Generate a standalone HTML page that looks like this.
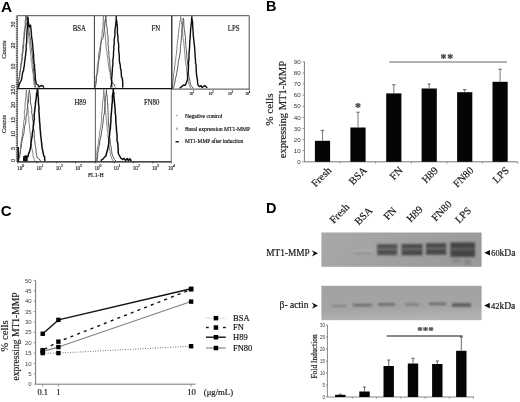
<!DOCTYPE html>
<html><head><meta charset="utf-8"><title>Figure</title>
<style>
html,body{margin:0;padding:0;background:#fff;}
svg{display:block;filter:blur(0.3px)}
.ts{font-family:'Liberation Serif', serif;stroke:#222;stroke-width:0.18px;}
.ta{font-family:'Liberation Sans', sans-serif;}
</style></head><body>
<svg width="520" height="402" viewBox="0 0 520 402">
<rect width="520" height="402" fill="#fff"/>
<text class="ta" x="0.9" y="12.1" font-size="15.3" text-anchor="start" fill="#000" font-weight="bold">A</text>
<text class="ta" x="266.0" y="10.8" font-size="14.5" text-anchor="start" fill="#000" font-weight="bold">B</text>
<text class="ta" x="0.8" y="216.2" font-size="15" text-anchor="start" fill="#000" font-weight="bold">C</text>
<text class="ta" x="266.0" y="213.1" font-size="14.5" text-anchor="start" fill="#000" font-weight="bold">D</text>
<polyline points="17.8,87.6 17.9,85.6 18.5,82.5 18.7,80.3 19.0,78.0 19.4,75.8 19.5,72.3 20.2,70.2 20.6,67.1 20.8,65.4 21.0,63.1 21.5,60.0 22.0,56.6 21.8,54.6 22.6,51.6 22.5,48.9 22.7,45.9 23.2,43.5 23.4,40.4 23.8,38.0 23.9,35.2 24.1,31.9 24.6,29.9 24.8,26.7 25.2,24.8 25.0,21.4 25.5,19.2 25.6,16.2 26.4,18.0 26.8,20.0 27.3,23.0 27.4,25.7 28.0,28.8 28.2,31.3 28.5,34.0 28.6,36.2 29.2,39.0 29.2,41.8 29.7,44.5 29.9,46.8 30.2,49.8 30.5,52.0 30.8,54.4 31.1,56.5 31.1,60.0 31.9,62.4 31.9,64.4 32.2,68.0 32.5,70.0 32.9,72.9 33.3,75.3 33.4,79.0 33.7,81.1 34.0,84.0 34.4,85.9 35.0,87.6" fill="none" stroke="#848484" stroke-width="1.0" stroke-linejoin="round"/>
<polyline points="18.0,87.6 18.4,86.2 18.4,83.6 18.6,80.3 19.4,78.5 19.7,75.2 20.1,72.9 20.5,70.0 20.9,67.0 21.2,64.7 21.7,62.9 22.1,59.8 22.3,56.8 22.4,54.0 23.0,52.0 23.2,48.9 23.5,46.8 23.8,43.5 23.9,40.0 24.2,37.2 24.5,35.5 24.8,32.0 25.1,28.9 25.5,27.0 25.7,24.5 25.9,21.7 26.0,19.3 26.3,16.0 27.5,17.0 28.0,19.2 28.2,22.5 28.4,24.8 28.7,27.9 29.0,30.0 29.3,32.9 29.6,35.5 30.2,37.5 30.4,40.5 30.8,42.5 31.0,45.0 31.2,47.6 31.7,50.2 32.1,53.2 32.5,56.1 32.8,59.4 32.9,62.0 33.1,64.8 33.4,67.7 33.5,70.0 33.8,73.8 34.0,76.0 34.3,77.7 34.7,80.8 34.9,82.4 35.0,85.0 36.0,87.6" fill="none" stroke="#585858" stroke-width="1.0" stroke-linejoin="round"/>
<polyline points="18.6,87.6 18.8,85.9 19.4,84.0 20.3,82.2 21.4,80.0 22.0,76.9 22.1,75.7 22.7,72.4 23.6,70.4 23.8,68.0 24.4,65.3 24.6,62.1 24.9,60.6 25.2,57.7 25.7,54.0 25.9,52.0 26.2,49.3 26.1,45.5 26.6,43.4 26.7,41.2 26.8,38.4 26.8,35.3 27.0,32.0 27.1,30.2 27.5,26.4 27.2,24.0 27.9,21.9 27.8,19.2 27.9,17.0 28.1,19.2 28.3,21.8 28.6,24.0 29.1,26.1 29.4,27.0 30.5,25.0 30.9,28.4 31.2,31.3 31.4,32.7 31.5,36.0 32.0,39.4 32.3,41.4 32.5,43.5 32.9,46.8 32.9,48.6 33.3,52.0 33.7,55.5 33.5,57.8 33.8,59.4 34.0,63.1 34.5,64.6 34.5,68.0 34.8,69.7 35.0,72.5 35.3,76.0 35.3,78.4 35.5,80.0 35.8,81.3 36.3,84.0 38.0,85.0 39.0,87.0 41.0,85.5 43.0,86.0 44.0,87.6" fill="none" stroke="#0c0c0c" stroke-width="1.4" stroke-linejoin="round"/>
<polyline points="95.0,87.6 95.2,84.4 95.6,82.0 96.0,80.0 96.0,77.0 96.9,74.9 97.1,71.2 97.2,68.4 97.3,65.4 97.6,63.9 98.3,60.9 98.6,57.1 98.6,55.0 99.0,52.0 99.6,50.1 100.2,46.3 100.6,44.8 101.0,42.0 101.3,39.1 101.5,36.5 102.1,35.4 102.1,32.1 102.4,30.0 102.9,27.3 103.1,25.0 103.1,21.5 103.3,18.7 103.5,16.0 103.5,18.5 104.1,20.9 103.9,24.6 104.2,27.3 104.6,30.0 104.9,32.6 105.4,35.2 105.4,38.1 105.8,41.1 105.9,44.7 106.1,47.2 106.5,50.0 107.1,52.0 107.0,54.9 107.9,58.2 107.9,60.4 108.3,63.3 108.9,66.0 109.0,69.1 110.0,72.3 110.3,75.1 110.3,76.9 111.0,80.0 111.9,83.0 112.2,85.8 112.9,87.6" fill="none" stroke="#848484" stroke-width="1.0" stroke-linejoin="round"/>
<polyline points="95.2,87.6 95.6,85.6 96.1,83.5 96.4,81.1 96.6,78.0 96.7,75.2 97.6,72.7 98.0,69.1 98.1,66.6 98.5,64.4 98.6,61.0 99.1,59.4 99.6,56.0 100.1,52.8 100.4,50.1 100.7,47.4 100.6,45.9 101.1,42.2 101.6,40.0 102.8,38.6 103.4,36.0 103.6,34.3 104.0,31.5 104.1,29.5 104.6,27.1 104.8,24.0 105.4,21.0 105.5,18.1 105.9,16.0 105.9,17.7 106.2,21.0 106.3,23.5 106.7,25.3 107.0,28.0 107.4,30.6 107.3,33.3 107.8,35.3 108.1,37.9 108.2,41.9 108.0,44.5 108.4,46.8 108.4,48.6 108.9,52.0 108.9,55.3 109.1,57.6 109.8,60.4 109.7,62.1 110.0,65.3 110.0,67.8 110.4,70.0 110.9,73.0 110.8,75.5 111.1,76.9 111.7,80.3 112.0,82.0 113.2,84.0 114.6,84.5 114.9,86.7 115.4,87.6" fill="none" stroke="#585858" stroke-width="1.0" stroke-linejoin="round"/>
<polyline points="110.6,87.6 111.2,86.3 111.5,84.0 111.7,80.8 111.6,78.7 112.0,76.0 112.1,73.2 112.4,70.0 112.4,67.9 112.9,64.7 112.9,62.6 112.8,59.8 113.4,56.8 113.5,54.9 113.5,52.0 113.9,48.9 113.7,46.8 114.3,43.3 114.1,40.1 114.6,37.4 115.0,35.0 114.9,32.0 115.0,29.6 115.3,27.5 115.8,24.2 115.9,21.9 116.2,19.8 116.3,16.4 116.2,18.9 116.8,21.5 117.0,23.9 117.4,27.3 117.4,30.0 117.4,33.0 117.7,35.0 118.0,37.7 118.0,41.6 118.5,43.0 118.7,45.7 118.6,49.9 118.9,52.0 119.2,54.4 119.3,57.2 119.4,60.8 119.6,62.5 120.3,65.2 120.4,68.0 121.0,70.0 121.3,73.4 121.4,75.7 121.6,77.5 122.4,78.0 122.5,80.9 122.8,82.8 122.7,85.5 122.8,87.6" fill="none" stroke="#0c0c0c" stroke-width="1.4" stroke-linejoin="round"/>
<polyline points="172.2,88.4 172.4,85.8 172.7,84.0 173.1,80.7 173.4,78.2 173.5,75.6 173.9,72.7 174.4,70.0 174.5,67.0 175.0,65.2 175.1,62.0 175.7,60.2 175.9,57.0 176.4,54.1 176.5,52.0 177.0,48.9 177.0,45.9 177.3,43.8 177.6,40.7 178.1,37.6 178.3,34.4 178.6,32.0 178.8,29.1 179.4,26.8 179.6,24.4 180.0,21.6 180.5,19.5 180.7,16.7 181.0,19.6 181.5,22.8 181.9,24.9 182.2,28.0 182.7,30.1 182.7,33.4 182.8,35.7 183.0,38.5 183.6,40.9 183.9,43.2 184.0,46.0 184.4,48.8 184.6,51.4 185.0,54.6 185.1,57.0 185.2,59.8 185.8,62.8 186.0,65.0 186.5,67.3 186.6,70.2 186.8,72.5 187.2,74.6 187.5,77.8 188.0,80.0 188.4,81.7 189.0,84.4 189.6,86.0 191.0,88.4" fill="none" stroke="#848484" stroke-width="1.0" stroke-linejoin="round"/>
<polyline points="173.4,88.4 173.8,86.8 174.3,84.4 175.0,82.0 175.3,78.9 176.2,76.1 176.6,73.6 177.1,70.8 177.6,68.0 177.9,65.7 178.3,62.4 178.7,59.7 179.4,57.8 179.8,54.2 180.3,52.0 180.4,49.7 180.5,46.4 180.9,43.6 181.1,40.8 181.4,37.9 181.8,34.9 181.8,32.0 181.9,28.7 182.6,26.4 182.6,24.1 183.0,21.1 183.3,18.0 183.8,20.6 183.8,24.0 184.0,26.7 184.3,29.4 184.8,32.0 185.1,35.4 185.5,37.7 185.4,40.2 185.8,43.4 185.9,46.7 186.3,49.4 186.6,52.0 186.7,54.6 186.9,57.5 187.3,60.5 187.6,63.8 188.1,65.9 188.1,68.8 188.4,72.0 188.8,74.9 189.0,77.1 189.4,78.7 190.0,81.4 190.2,84.0 191.0,85.4 192.0,87.0 193.6,88.4" fill="none" stroke="#585858" stroke-width="1.0" stroke-linejoin="round"/>
<polyline points="179.7,88.2 181.6,86.6 183.6,85.0 185.4,85.4 186.4,82.4 187.5,79.8 187.6,77.3 187.7,73.9 188.4,70.4 188.4,68.0 188.6,65.5 188.4,62.5 188.9,59.9 189.0,56.9 188.9,54.2 189.2,52.0 189.4,49.7 189.6,46.6 189.7,43.7 189.8,40.3 190.2,38.0 190.3,34.3 190.5,32.0 190.6,29.1 190.9,27.3 191.1,24.8 191.6,21.2 191.6,19.2 191.9,16.7 191.9,19.2 192.5,21.3 192.6,23.9 192.8,27.4 192.8,28.8 193.2,32.0 193.2,34.9 193.5,37.2 193.9,41.1 194.1,43.3 194.5,45.8 194.7,48.7 194.9,52.0 195.1,55.2 195.1,57.2 195.5,59.3 195.5,62.9 196.1,64.4 196.1,68.0 196.2,70.0 196.4,72.9 196.6,75.4 197.2,78.5 197.5,80.7 197.7,84.0 198.5,85.8 199.4,86.6 201.0,85.6 202.2,87.6 204.0,86.0 205.4,85.8 207.2,88.2" fill="none" stroke="#0c0c0c" stroke-width="1.4" stroke-linejoin="round"/>
<polyline points="18.2,161.0 18.8,158.4 19.4,156.0 19.8,152.9 20.3,151.2 20.5,147.5 20.7,145.1 20.9,143.4 21.4,140.0 22.1,136.6 22.4,134.8 22.5,131.7 23.0,129.3 23.4,126.9 23.7,124.0 23.7,121.6 24.4,119.0 24.4,114.7 24.3,112.0 25.0,109.4 24.9,107.5 25.2,104.0 25.3,101.3 25.6,97.7 26.0,96.2 26.0,92.4 26.4,90.0 26.5,91.9 26.8,95.8 27.1,98.1 27.4,100.1 27.4,103.1 27.6,106.0 27.9,108.1 28.3,110.9 28.1,114.7 28.9,116.9 28.8,119.3 29.0,122.7 29.2,124.6 29.6,128.0 29.9,130.0 30.3,133.7 30.6,135.7 30.7,138.2 30.7,141.2 31.2,143.1 31.6,146.0 31.7,148.3 32.4,150.6 33.0,153.5 33.0,155.6 33.6,158.0 34.5,159.5 35.0,161.0" fill="none" stroke="#848484" stroke-width="1.0" stroke-linejoin="round"/>
<polyline points="18.6,161.0 19.0,158.8 19.8,156.4 20.0,154.4 20.4,152.0 20.6,149.4 21.3,147.1 21.5,143.7 21.9,141.8 22.7,137.9 23.0,136.0 23.8,133.9 24.2,130.6 24.5,126.8 25.3,124.1 25.8,122.0 25.9,119.0 26.1,116.8 26.6,114.8 27.0,111.9 27.2,109.4 27.5,106.2 27.8,104.0 28.4,102.0 28.6,98.7 28.6,95.2 29.0,92.1 29.4,90.0 29.8,92.6 30.2,95.4 30.5,99.0 30.2,100.7 30.8,104.0 31.4,106.8 31.8,109.6 31.6,112.8 32.3,115.1 32.3,118.0 33.1,121.6 33.2,124.0 33.2,126.2 33.5,128.4 34.1,131.2 34.3,134.2 34.3,137.2 34.5,139.7 35.0,142.0 35.0,144.3 35.4,146.4 36.1,149.7 36.0,152.2 36.4,154.0 36.7,155.8 37.4,158.0 39.2,159.0 40.6,161.0" fill="none" stroke="#585858" stroke-width="1.0" stroke-linejoin="round"/>
<polyline points="23.7,161.0 23.8,159.0 23.9,156.6 25.8,156.0 27.6,156.4 27.9,157.0 28.3,154.6 29.0,152.9 29.9,150.4 30.4,148.0 30.8,145.8 30.9,143.1 31.3,141.4 31.6,138.9 32.2,136.0 32.3,133.9 32.7,131.1 33.3,128.1 33.2,127.0 33.7,124.0 33.9,120.7 34.4,119.3 34.1,115.9 34.4,113.1 34.8,110.2 35.0,108.0 35.4,105.0 35.4,103.7 35.8,100.7 36.2,98.4 36.4,96.0 36.7,92.9 37.2,91.7 37.4,88.6 37.9,91.7 37.8,94.1 38.3,97.4 38.4,100.0 38.4,102.3 38.7,105.3 39.1,108.0 38.8,111.1 39.2,113.4 39.2,115.9 39.5,119.1 39.5,121.4 39.9,124.0 40.0,126.9 40.1,129.0 40.5,132.2 40.6,134.6 40.9,137.0 41.3,140.0 41.6,143.2 41.9,145.7 42.1,148.1 42.6,150.0 42.9,151.6 43.5,154.6 43.8,156.0 44.8,157.0 44.6,158.7 45.0,161.0" fill="none" stroke="#0c0c0c" stroke-width="1.5" stroke-linejoin="round"/>
<rect x="17.4" y="147" width="1.6" height="14.5" fill="#111"/>
<rect x="23.7" y="156.6" width="4" height="4.6" fill="#111"/>
<polyline points="96.4,161.0 96.4,158.9 96.8,156.8 96.8,154.0 97.0,150.9 97.4,148.0 98.1,145.1 98.4,142.4 98.8,140.0 99.1,137.2 99.7,134.8 99.7,131.7 100.1,129.8 100.8,127.1 101.0,124.0 101.4,121.5 101.7,118.7 101.6,115.9 101.9,112.9 102.2,109.6 102.3,106.8 102.6,104.0 102.8,100.6 103.2,98.6 103.6,95.6 103.6,92.8 103.8,89.6 103.9,92.7 104.3,94.9 104.4,98.3 104.6,101.1 105.0,104.0 105.3,106.7 105.3,109.7 105.6,112.2 105.9,115.3 106.1,118.5 106.8,121.0 106.8,124.0 107.2,127.1 107.1,128.7 107.7,132.1 107.9,133.9 108.0,137.3 108.5,139.8 108.6,142.0 108.8,144.9 109.3,147.1 109.5,149.8 110.1,151.9 110.4,154.0 110.9,156.2 111.8,158.1 112.4,160.0 113.4,161.0" fill="none" stroke="#848484" stroke-width="1.0" stroke-linejoin="round"/>
<polyline points="97.2,161.0 97.2,159.0 97.7,157.1 97.7,153.9 98.0,152.0 98.6,149.4 98.9,146.6 99.5,144.0 99.9,140.4 100.6,138.0 101.2,135.2 101.4,133.1 102.0,129.6 102.4,127.5 102.6,124.9 103.2,122.0 103.3,119.2 103.5,116.5 104.2,114.2 104.5,111.6 104.5,109.6 104.8,106.1 105.0,104.0 105.3,101.3 105.4,97.7 106.1,95.4 106.1,92.4 106.5,89.6 106.6,92.9 106.9,94.9 107.3,97.7 107.3,100.5 107.6,104.0 107.9,106.4 107.9,109.2 108.0,112.8 108.2,115.4 108.3,118.2 108.5,120.6 108.6,124.0 108.8,126.2 109.2,129.7 109.1,131.3 109.6,134.4 109.5,137.1 110.2,139.3 110.2,142.0 110.5,144.5 111.1,146.5 111.2,148.8 111.7,151.6 112.0,154.0 113.1,156.6 114.4,159.4 116.0,161.0" fill="none" stroke="#585858" stroke-width="1.0" stroke-linejoin="round"/>
<polyline points="100.6,160.6 103.0,159.0 104.7,156.9 105.9,156.0 106.7,152.8 107.5,149.8 108.0,147.6 108.5,144.9 108.9,142.4 108.9,138.7 109.4,136.0 109.7,133.3 109.8,130.9 110.3,129.3 110.5,126.0 110.6,124.0 111.0,121.2 110.9,118.2 111.2,114.9 111.4,112.4 111.6,110.3 111.9,106.7 112.0,104.0 112.4,102.1 112.4,99.5 112.4,95.9 112.7,94.4 113.2,91.6 113.3,88.8 113.4,91.3 113.9,93.4 113.8,95.8 114.2,99.4 114.4,101.3 114.6,104.0 114.8,106.4 115.2,109.5 115.1,112.3 115.6,115.2 115.8,118.1 115.8,120.6 116.0,124.0 116.4,127.0 116.4,128.7 116.6,131.6 117.0,134.8 117.1,136.6 117.0,139.9 117.4,142.0 117.9,144.0 117.9,146.8 118.3,148.6 118.1,152.0 118.6,154.0 119.7,156.0 120.7,158.0 122.6,159.4 124.0,158.4 125.4,160.4 127.4,158.6 128.4,160.6 130.0,158.8 131.3,161.0" fill="none" stroke="#0c0c0c" stroke-width="1.5" stroke-linejoin="round"/>
<path d="M17.2 15.7H249.2V89.6" fill="none" stroke="#222" stroke-width="0.8"/>
<line x1="17.2" y1="15.7" x2="17.2" y2="161.8" stroke="#222" stroke-width="0.9"/>
<line x1="94.4" y1="15.7" x2="94.4" y2="88.6" stroke="#222" stroke-width="0.9"/>
<line x1="95.4" y1="88.6" x2="95.4" y2="161.8" stroke="#333" stroke-width="0.8"/>
<line x1="171.8" y1="15.7" x2="171.8" y2="89.19999999999999" stroke="#111" stroke-width="1.2"/>
<line x1="171.3" y1="88.6" x2="171.3" y2="161.8" stroke="#555" stroke-width="0.8"/>
<line x1="17.2" y1="88.6" x2="172.2" y2="88.6" stroke="#111" stroke-width="1.3"/>
<line x1="172" y1="89.1" x2="249.2" y2="89.1" stroke="#333" stroke-width="0.9"/>
<line x1="17.2" y1="161.8" x2="171.3" y2="161.8" stroke="#111" stroke-width="1.2"/>
<line x1="16.4" y1="15.7" x2="16.4" y2="161.8" stroke="#333" stroke-width="1.2" stroke-dasharray="0.6 1.2"/>
<text class="ts" transform="translate(72.8 30.8) scale(0.8 1)" font-size="8.5" text-anchor="start" fill="#111">BSA</text>
<text class="ts" transform="translate(151.5 30.8) scale(0.8 1)" font-size="8.5" text-anchor="start" fill="#111">FN</text>
<text class="ts" transform="translate(227.8 30.8) scale(0.8 1)" font-size="8.5" text-anchor="start" fill="#111">LPS</text>
<text class="ts" transform="translate(74.4 104.8) scale(0.8 1)" font-size="8.5" text-anchor="start" fill="#111">H89</text>
<text class="ts" transform="translate(143.9 104.8) scale(0.8 1)" font-size="8.5" text-anchor="start" fill="#111">FN80</text>
<text class="ts" x="5.6" y="49.6" font-size="6.4" text-anchor="middle" fill="#222" transform="rotate(-90 5.6 49.6)" stroke="#222" stroke-width="0.25">Counts</text>
<text class="ts" x="5.6" y="124" font-size="6.4" text-anchor="middle" fill="#222" transform="rotate(-90 5.6 124)" stroke="#222" stroke-width="0.25">Counts</text>
<text class="ts" x="15.0" y="24.5" font-size="6" text-anchor="middle" fill="#222" transform="rotate(-90 15.0 24.5)" stroke="#222" stroke-width="0.25">30</text>
<text class="ts" x="15.0" y="45.5" font-size="6" text-anchor="middle" fill="#222" transform="rotate(-90 15.0 45.5)" stroke="#222" stroke-width="0.25">20</text>
<text class="ts" x="15.0" y="66.5" font-size="6" text-anchor="middle" fill="#222" transform="rotate(-90 15.0 66.5)" stroke="#222" stroke-width="0.25">10</text>
<text class="ts" x="15.0" y="86.6" font-size="6" text-anchor="middle" fill="#222" transform="rotate(-90 15.0 86.6)" stroke="#222" stroke-width="0.25">0</text>
<text class="ts" x="15.0" y="91.5" font-size="6" text-anchor="middle" fill="#222" transform="rotate(-90 15.0 91.5)" stroke="#222" stroke-width="0.25">25</text>
<text class="ts" x="15.0" y="105" font-size="6" text-anchor="middle" fill="#222" transform="rotate(-90 15.0 105)" stroke="#222" stroke-width="0.25">20</text>
<text class="ts" x="15.0" y="120" font-size="6" text-anchor="middle" fill="#222" transform="rotate(-90 15.0 120)" stroke="#222" stroke-width="0.25">15</text>
<text class="ts" x="15.0" y="134" font-size="6" text-anchor="middle" fill="#222" transform="rotate(-90 15.0 134)" stroke="#222" stroke-width="0.25">10</text>
<text class="ts" x="15.0" y="148.4" font-size="6" text-anchor="middle" fill="#222" transform="rotate(-90 15.0 148.4)" stroke="#222" stroke-width="0.25">5</text>
<text class="ts" x="15.0" y="160.6" font-size="6" text-anchor="middle" fill="#222" transform="rotate(-90 15.0 160.6)" stroke="#222" stroke-width="0.25">0</text>
<text class="ts" transform="translate(17.099999999999998 170.2) scale(0.8 1)" font-size="6.4" text-anchor="start" fill="#111" stroke="#111" stroke-width="0.3">10<tspan dy="-3.20" font-size="4.74">0</tspan></text>
<text class="ts" transform="translate(36.4 170.2) scale(0.8 1)" font-size="6.4" text-anchor="start" fill="#111" stroke="#111" stroke-width="0.3">10<tspan dy="-3.20" font-size="4.74">1</tspan></text>
<text class="ts" transform="translate(55.8 170.2) scale(0.8 1)" font-size="6.4" text-anchor="start" fill="#111" stroke="#111" stroke-width="0.3">10<tspan dy="-3.20" font-size="4.74">2</tspan></text>
<text class="ts" transform="translate(75.0 170.2) scale(0.8 1)" font-size="6.4" text-anchor="start" fill="#111" stroke="#111" stroke-width="0.3">10<tspan dy="-3.20" font-size="4.74">3</tspan></text>
<text class="ts" transform="translate(94.4 170.2) scale(0.8 1)" font-size="6.4" text-anchor="start" fill="#111" stroke="#111" stroke-width="0.3">10<tspan dy="-3.20" font-size="4.74">0</tspan></text>
<text class="ts" transform="translate(113.60000000000001 170.2) scale(0.8 1)" font-size="6.4" text-anchor="start" fill="#111" stroke="#111" stroke-width="0.3">10<tspan dy="-3.20" font-size="4.74">1</tspan></text>
<text class="ts" transform="translate(132.8 170.2) scale(0.8 1)" font-size="6.4" text-anchor="start" fill="#111" stroke="#111" stroke-width="0.3">10<tspan dy="-3.20" font-size="4.74">2</tspan></text>
<text class="ts" transform="translate(152.0 170.2) scale(0.8 1)" font-size="6.4" text-anchor="start" fill="#111" stroke="#111" stroke-width="0.3">10<tspan dy="-3.20" font-size="4.74">3</tspan></text>
<text class="ts" transform="translate(167.9 170.2) scale(0.8 1)" font-size="6.4" text-anchor="start" fill="#111" stroke="#111" stroke-width="0.3">10<tspan dy="-3.20" font-size="4.74">4</tspan></text>
<text class="ts" transform="translate(189.2 95.0) scale(0.8 1)" font-size="4.6" text-anchor="start" fill="#111" stroke="#111" stroke-width="0.3">10<tspan dy="-2.30" font-size="3.40">1</tspan></text>
<text class="ts" transform="translate(208.6 95.0) scale(0.8 1)" font-size="4.6" text-anchor="start" fill="#111" stroke="#111" stroke-width="0.3">10<tspan dy="-2.30" font-size="3.40">2</tspan></text>
<text class="ts" transform="translate(228.0 95.0) scale(0.8 1)" font-size="4.6" text-anchor="start" fill="#111" stroke="#111" stroke-width="0.3">10<tspan dy="-2.30" font-size="3.40">3</tspan></text>
<text class="ts" transform="translate(245.2 95.0) scale(0.8 1)" font-size="4.6" text-anchor="start" fill="#111" stroke="#111" stroke-width="0.3">10<tspan dy="-2.30" font-size="3.40">4</tspan></text>
<line x1="17.7" y1="161.8" x2="17.7" y2="163.4" stroke="#222" stroke-width="0.7"/>
<line x1="37.0" y1="161.8" x2="37.0" y2="163.4" stroke="#222" stroke-width="0.7"/>
<line x1="56.4" y1="161.8" x2="56.4" y2="163.4" stroke="#222" stroke-width="0.7"/>
<line x1="75.6" y1="161.8" x2="75.6" y2="163.4" stroke="#222" stroke-width="0.7"/>
<line x1="95.0" y1="161.8" x2="95.0" y2="163.4" stroke="#222" stroke-width="0.7"/>
<line x1="114.2" y1="161.8" x2="114.2" y2="163.4" stroke="#222" stroke-width="0.7"/>
<line x1="133.4" y1="161.8" x2="133.4" y2="163.4" stroke="#222" stroke-width="0.7"/>
<line x1="152.6" y1="161.8" x2="152.6" y2="163.4" stroke="#222" stroke-width="0.7"/>
<line x1="171.3" y1="161.8" x2="171.3" y2="163.4" stroke="#222" stroke-width="0.7"/>
<text class="ts" x="87.9" y="177.4" font-size="5.8" text-anchor="start" fill="#111">FL1-H</text>
<rect x="176.0" y="115.4" width="0.7" height="0.7" fill="#444"/>
<rect x="177.3" y="115.4" width="0.7" height="0.7" fill="#444"/>
<text class="ts" x="184.9" y="117.6" font-size="5.6" text-anchor="start" fill="#111">Negative control</text>
<line x1="176" y1="128.2" x2="178" y2="128.2" stroke="#666" stroke-width="0.6"/>
<line x1="176" y1="129.3" x2="178" y2="129.3" stroke="#666" stroke-width="0.6"/>
<text class="ts" x="184.9" y="130.5" font-size="5.6" text-anchor="start" fill="#111">Basal expression MT1-MMP</text>
<line x1="175.5" y1="141.8" x2="178.9" y2="141.8" stroke="#111" stroke-width="1.4"/>
<text class="ts" x="184.9" y="143.4" font-size="5.45" text-anchor="start" fill="#111">MT1-MMP after induction</text>
<line x1="304.4" y1="61.6" x2="304.4" y2="161.8" stroke="#666" stroke-width="0.9"/>
<line x1="304.4" y1="161.8" x2="517.8" y2="161.8" stroke="#666" stroke-width="0.9"/>
<line x1="302.4" y1="161.8" x2="304.4" y2="161.8" stroke="#777" stroke-width="0.7"/>
<text class="ta" x="300.6" y="164.0" font-size="6.2" text-anchor="end" fill="#333">0</text>
<line x1="302.4" y1="150.69" x2="304.4" y2="150.69" stroke="#777" stroke-width="0.7"/>
<text class="ta" x="300.6" y="152.89" font-size="6.2" text-anchor="end" fill="#333">10</text>
<line x1="302.4" y1="139.58" x2="304.4" y2="139.58" stroke="#777" stroke-width="0.7"/>
<text class="ta" x="300.6" y="141.78" font-size="6.2" text-anchor="end" fill="#333">20</text>
<line x1="302.4" y1="128.47000000000003" x2="304.4" y2="128.47000000000003" stroke="#777" stroke-width="0.7"/>
<text class="ta" x="300.6" y="130.67000000000002" font-size="6.2" text-anchor="end" fill="#333">30</text>
<line x1="302.4" y1="117.36000000000001" x2="304.4" y2="117.36000000000001" stroke="#777" stroke-width="0.7"/>
<text class="ta" x="300.6" y="119.56000000000002" font-size="6.2" text-anchor="end" fill="#333">40</text>
<line x1="302.4" y1="106.25000000000001" x2="304.4" y2="106.25000000000001" stroke="#777" stroke-width="0.7"/>
<text class="ta" x="300.6" y="108.45000000000002" font-size="6.2" text-anchor="end" fill="#333">50</text>
<line x1="302.4" y1="95.14000000000001" x2="304.4" y2="95.14000000000001" stroke="#777" stroke-width="0.7"/>
<text class="ta" x="300.6" y="97.34000000000002" font-size="6.2" text-anchor="end" fill="#333">60</text>
<line x1="302.4" y1="84.03000000000002" x2="304.4" y2="84.03000000000002" stroke="#777" stroke-width="0.7"/>
<text class="ta" x="300.6" y="86.23000000000002" font-size="6.2" text-anchor="end" fill="#333">70</text>
<line x1="302.4" y1="72.92000000000002" x2="304.4" y2="72.92000000000002" stroke="#777" stroke-width="0.7"/>
<text class="ta" x="300.6" y="75.12000000000002" font-size="6.2" text-anchor="end" fill="#333">80</text>
<line x1="302.4" y1="61.81000000000002" x2="304.4" y2="61.81000000000002" stroke="#777" stroke-width="0.7"/>
<text class="ta" x="300.6" y="64.01000000000002" font-size="6.2" text-anchor="end" fill="#333">90</text>
<rect x="314.9" y="140.8" width="15.2" height="21.0" fill="#050505"/>
<line x1="322.5" y1="130.4" x2="322.5" y2="140.8" stroke="#555" stroke-width="0.8"/>
<line x1="320.8" y1="130.4" x2="324.2" y2="130.4" stroke="#555" stroke-width="0.9"/>
<text class="ts" x="332.0" y="171" font-size="10.5" text-anchor="end" fill="#111" transform="rotate(-45 332.0 171)">Fresh</text>
<rect x="350.4" y="127.5" width="15.2" height="34.30000000000001" fill="#050505"/>
<line x1="358" y1="112.2" x2="358" y2="127.5" stroke="#555" stroke-width="0.8"/>
<line x1="356.3" y1="112.2" x2="359.7" y2="112.2" stroke="#555" stroke-width="0.9"/>
<text class="ts" x="367.5" y="171" font-size="10.5" text-anchor="end" fill="#111" transform="rotate(-45 367.5 171)">BSA</text>
<rect x="386.2" y="93.4" width="15.2" height="68.4" fill="#050505"/>
<line x1="393.8" y1="84.8" x2="393.8" y2="93.4" stroke="#555" stroke-width="0.8"/>
<line x1="392.1" y1="84.8" x2="395.5" y2="84.8" stroke="#555" stroke-width="0.9"/>
<text class="ts" x="403.3" y="171" font-size="10.5" text-anchor="end" fill="#111" transform="rotate(-45 403.3 171)">FN</text>
<rect x="421.59999999999997" y="88.5" width="15.2" height="73.30000000000001" fill="#050505"/>
<line x1="429.2" y1="84.0" x2="429.2" y2="88.5" stroke="#555" stroke-width="0.8"/>
<line x1="427.5" y1="84.0" x2="430.9" y2="84.0" stroke="#555" stroke-width="0.9"/>
<text class="ts" x="438.7" y="171" font-size="10.5" text-anchor="end" fill="#111" transform="rotate(-45 438.7 171)">H89</text>
<rect x="457.09999999999997" y="92.2" width="15.2" height="69.60000000000001" fill="#050505"/>
<line x1="464.7" y1="89.6" x2="464.7" y2="92.2" stroke="#555" stroke-width="0.8"/>
<line x1="463.0" y1="89.6" x2="466.4" y2="89.6" stroke="#555" stroke-width="0.9"/>
<text class="ts" x="474.2" y="171" font-size="10.5" text-anchor="end" fill="#111" transform="rotate(-45 474.2 171)">FN80</text>
<rect x="492.5" y="81.8" width="15.2" height="80.00000000000001" fill="#050505"/>
<line x1="500.1" y1="69.2" x2="500.1" y2="81.8" stroke="#555" stroke-width="0.8"/>
<line x1="498.40000000000003" y1="69.2" x2="501.8" y2="69.2" stroke="#555" stroke-width="0.9"/>
<text class="ts" x="509.6" y="171" font-size="10.5" text-anchor="end" fill="#111" transform="rotate(-45 509.6 171)">LPS</text>
<line x1="340.2" y1="161.8" x2="340.2" y2="163.8" stroke="#777" stroke-width="0.7"/>
<line x1="375.7" y1="161.8" x2="375.7" y2="163.8" stroke="#777" stroke-width="0.7"/>
<line x1="411.5" y1="161.8" x2="411.5" y2="163.8" stroke="#777" stroke-width="0.7"/>
<line x1="446.9" y1="161.8" x2="446.9" y2="163.8" stroke="#777" stroke-width="0.7"/>
<line x1="482.4" y1="161.8" x2="482.4" y2="163.8" stroke="#777" stroke-width="0.7"/>
<line x1="517.8000000000001" y1="161.8" x2="517.8000000000001" y2="163.8" stroke="#777" stroke-width="0.7"/>
<text class="ts" x="273.2" y="109.6" font-size="11.1" text-anchor="middle" fill="#222" transform="rotate(-90 273.2 109.6)">% cells</text>
<text class="ts" x="286.2" y="109.6" font-size="10.6" text-anchor="middle" fill="#222" transform="rotate(-90 286.2 109.6)">expressing MT1-MMP</text>
<line x1="389.3" y1="62.0" x2="507" y2="62.0" stroke="#999" stroke-width="1.4"/>
<text class="ts" x="447.2" y="62.2" font-size="12" text-anchor="middle" fill="#444" font-weight="bold" letter-spacing="0.6">**</text>
<text class="ts" x="358" y="110.6" font-size="12" text-anchor="middle" fill="#444" font-weight="bold">*</text>
<line x1="35.6" y1="280.5" x2="35.6" y2="384.2" stroke="#666" stroke-width="0.9"/>
<line x1="35.6" y1="384.2" x2="195.5" y2="384.2" stroke="#666" stroke-width="0.9"/>
<line x1="33.6" y1="384.2" x2="35.6" y2="384.2" stroke="#777" stroke-width="0.7"/>
<text class="ta" x="31.6" y="386.3" font-size="6" text-anchor="end" fill="#444">0</text>
<line x1="33.6" y1="373.825" x2="35.6" y2="373.825" stroke="#777" stroke-width="0.7"/>
<text class="ta" x="31.6" y="375.925" font-size="6" text-anchor="end" fill="#444">5</text>
<line x1="33.6" y1="363.45" x2="35.6" y2="363.45" stroke="#777" stroke-width="0.7"/>
<text class="ta" x="31.6" y="365.55" font-size="6" text-anchor="end" fill="#444">10</text>
<line x1="33.6" y1="353.075" x2="35.6" y2="353.075" stroke="#777" stroke-width="0.7"/>
<text class="ta" x="31.6" y="355.175" font-size="6" text-anchor="end" fill="#444">15</text>
<line x1="33.6" y1="342.7" x2="35.6" y2="342.7" stroke="#777" stroke-width="0.7"/>
<text class="ta" x="31.6" y="344.8" font-size="6" text-anchor="end" fill="#444">20</text>
<line x1="33.6" y1="332.325" x2="35.6" y2="332.325" stroke="#777" stroke-width="0.7"/>
<text class="ta" x="31.6" y="334.425" font-size="6" text-anchor="end" fill="#444">25</text>
<line x1="33.6" y1="321.95" x2="35.6" y2="321.95" stroke="#777" stroke-width="0.7"/>
<text class="ta" x="31.6" y="324.05" font-size="6" text-anchor="end" fill="#444">30</text>
<line x1="33.6" y1="311.575" x2="35.6" y2="311.575" stroke="#777" stroke-width="0.7"/>
<text class="ta" x="31.6" y="313.675" font-size="6" text-anchor="end" fill="#444">35</text>
<line x1="33.6" y1="301.2" x2="35.6" y2="301.2" stroke="#777" stroke-width="0.7"/>
<text class="ta" x="31.6" y="303.3" font-size="6" text-anchor="end" fill="#444">40</text>
<line x1="33.6" y1="290.825" x2="35.6" y2="290.825" stroke="#777" stroke-width="0.7"/>
<text class="ta" x="31.6" y="292.925" font-size="6" text-anchor="end" fill="#444">45</text>
<line x1="33.6" y1="280.45" x2="35.6" y2="280.45" stroke="#777" stroke-width="0.7"/>
<text class="ta" x="31.6" y="282.55" font-size="6" text-anchor="end" fill="#444">50</text>
<line x1="42.7" y1="384.2" x2="42.7" y2="386.59999999999997" stroke="#777" stroke-width="0.7"/>
<line x1="58.4" y1="384.2" x2="58.4" y2="386.59999999999997" stroke="#777" stroke-width="0.7"/>
<line x1="191.1" y1="384.2" x2="191.1" y2="386.59999999999997" stroke="#777" stroke-width="0.7"/>
<polyline points="42.7,353.1 58.4,353.1 191.1,346.2" fill="none" stroke="#555" stroke-width="0.9" stroke-linejoin="round" stroke-dasharray="0.9 1.6"/>
<polyline points="42.7,351.4 58.4,347.1 191.1,301.6" fill="none" stroke="#808080" stroke-width="1.1" stroke-linejoin="round"/>
<polyline points="42.7,350.2 58.4,341.7 191.1,289.4" fill="none" stroke="#111" stroke-width="1.4" stroke-linejoin="round" stroke-dasharray="3 4.2" stroke-dashoffset="-2"/>
<polyline points="42.7,333.8 58.4,319.9 191.1,288.8" fill="none" stroke="#111" stroke-width="1.4" stroke-linejoin="round"/>
<rect x="40.5" y="350.875" width="4.4" height="4.4" fill="#000"/>
<rect x="56.199999999999996" y="350.875" width="4.4" height="4.4" fill="#000"/>
<rect x="188.9" y="344.0275" width="4.4" height="4.4" fill="#000"/>
<rect x="40.5" y="349.215" width="4.4" height="4.4" fill="#000"/>
<rect x="56.199999999999996" y="344.8575" width="4.4" height="4.4" fill="#000"/>
<rect x="188.9" y="299.415" width="4.4" height="4.4" fill="#000"/>
<rect x="40.5" y="347.96999999999997" width="4.4" height="4.4" fill="#000"/>
<rect x="56.199999999999996" y="339.4625" width="4.4" height="4.4" fill="#000"/>
<rect x="188.9" y="287.17249999999996" width="4.4" height="4.4" fill="#000"/>
<rect x="40.5" y="331.5775" width="4.4" height="4.4" fill="#000"/>
<rect x="56.199999999999996" y="317.675" width="4.4" height="4.4" fill="#000"/>
<rect x="188.9" y="286.55" width="4.4" height="4.4" fill="#000"/>
<text class="ts" x="42.7" y="394.6" font-size="8.4" text-anchor="middle" fill="#111">0.1</text>
<text class="ts" x="58.4" y="394.6" font-size="8.4" text-anchor="middle" fill="#111">1</text>
<text class="ts" x="191.6" y="395.2" font-size="8.7" text-anchor="middle" fill="#111">10</text>
<text class="ts" x="203.8" y="395.2" font-size="8.7" text-anchor="start" fill="#111">(μg/mL)</text>
<text class="ts" x="8.2" y="336.0" font-size="10.8" text-anchor="middle" fill="#222" transform="rotate(-90 8.2 336.0)">% cells</text>
<text class="ts" x="19.0" y="336.4" font-size="9.6" text-anchor="middle" fill="#222" transform="rotate(-90 19.0 336.4)">expressing MT1-MMP</text>
<line x1="206" y1="318.1" x2="225.8" y2="318.1" stroke="#999" stroke-width="0.9" stroke-dasharray="0.9 1.5"/>
<rect x="213.7" y="315.90000000000003" width="4.5" height="4.5" fill="#000"/>
<text class="ts" x="233" y="321.0" font-size="8.5" text-anchor="start" fill="#111" stroke="#111" stroke-width="0.15">BSA</text>
<line x1="206" y1="327.5" x2="208.8" y2="327.5" stroke="#111" stroke-width="1.4"/>
<line x1="223" y1="327.5" x2="225.8" y2="327.5" stroke="#111" stroke-width="1.4"/>
<rect x="213.7" y="325.3" width="4.5" height="4.5" fill="#000"/>
<text class="ts" x="233" y="330.4" font-size="8.5" text-anchor="start" fill="#111" stroke="#111" stroke-width="0.15">FN</text>
<line x1="206" y1="337.2" x2="225.8" y2="337.2" stroke="#111" stroke-width="1.4"/>
<rect x="213.7" y="335.0" width="4.5" height="4.5" fill="#000"/>
<text class="ts" x="233" y="340.09999999999997" font-size="8.5" text-anchor="start" fill="#111" stroke="#111" stroke-width="0.15">H89</text>
<line x1="206" y1="348.0" x2="225.8" y2="348.0" stroke="#808080" stroke-width="1.1"/>
<rect x="213.7" y="345.8" width="4.5" height="4.5" fill="#000"/>
<text class="ts" x="233" y="350.9" font-size="8.5" text-anchor="start" fill="#111" stroke="#111" stroke-width="0.15">FN80</text>
<defs><filter id="bl" x="-20%" y="-50%" width="140%" height="200%"><feGaussianBlur stdDeviation="1.1 0.9"/></filter><filter id="bl2" x="-20%" y="-80%" width="140%" height="260%"><feGaussianBlur stdDeviation="1.3 0.8"/></filter><filter id="bl3" x="-5%" y="-10%" width="110%" height="120%"><feGaussianBlur stdDeviation="0.5"/></filter><linearGradient id="g1" x1="0" x2="1" y1="0" y2="0.25"><stop offset="0" stop-color="#a8a8a8"/><stop offset="0.35" stop-color="#a4a4a4"/><stop offset="1" stop-color="#9a9a9a"/></linearGradient><linearGradient id="g2" x1="0" x2="0.15" y1="0" y2="1"><stop offset="0" stop-color="#a2a2a2"/><stop offset="0.7" stop-color="#a4a4a4"/><stop offset="1" stop-color="#b2b2b2"/></linearGradient></defs>
<g filter="url(#bl3)">
<rect x="321.4" y="232.5" width="160.2" height="34.3" fill="url(#g1)"/>
<rect x="321.4" y="285.8" width="160.2" height="34.4" fill="url(#g2)"/>
</g>
<g filter="url(#bl)">
<rect x="352" y="250.4" width="20" height="1.4" fill="#b6b6b6"/>
<rect x="354" y="252.2" width="18" height="1.8" fill="#8a8a8a"/>
<rect x="377.2" y="244.2" width="20.0" height="11.0" fill="#505050"/>
<rect x="377.7" y="248.2" width="19.0" height="1.8" fill="#747474"/>
<rect x="401.6" y="244.0" width="21.0" height="11.400000000000006" fill="#4a4a4a"/>
<rect x="402.1" y="248.2" width="20.0" height="1.8" fill="#707070"/>
<rect x="426" y="243.2" width="20.19999999999999" height="11.600000000000023" fill="#4a4a4a"/>
<rect x="426.5" y="247.5" width="19.19999999999999" height="1.8" fill="#707070"/>
<rect x="450.4" y="242.4" width="24.600000000000023" height="14.599999999999994" fill="#444"/>
<rect x="450.9" y="248.2" width="23.600000000000023" height="1.8" fill="#666"/>
<rect x="452" y="258" width="9" height="5" fill="#8c8c8c"/>
<rect x="464" y="259" width="7" height="6" fill="#888"/>
</g>
<g filter="url(#bl2)">
<rect x="332" y="305.0" width="15" height="1.8" fill="#808080"/>
<rect x="353" y="303.8" width="19" height="2.6" fill="#6a6a6a"/>
<rect x="378" y="303.2" width="17" height="2.4" fill="#666"/>
<rect x="405" y="303.4" width="14" height="2.0" fill="#747474"/>
<rect x="429" y="302.6" width="17" height="2.4" fill="#686868"/>
<rect x="452" y="303.2" width="19" height="3.6" fill="#5c5c5c"/>
</g>
<text class="ts" x="266.2" y="256.0" font-size="9.3" text-anchor="start" fill="#111">MT1-MMP</text>
<path d="M311.8 250.2L318.0 253.3L311.8 256.4L313.8 253.3Z" fill="#111"/>
<path d="M311.8 302.6L318.0 305.7L311.8 308.8L313.8 305.7Z" fill="#111"/>
<text class="ts" x="279.6" y="308" font-size="9.5" text-anchor="start" fill="#111">β- actin</text>
<path d="M484.2 252.8L490 250.0V255.6Z" fill="#111"/>
<text class="ts" x="491.2" y="256.2" font-size="9.6" text-anchor="start" fill="#111"><tspan font-size="8.4">60</tspan>kDa</text>
<path d="M484.2 305.6L489.8 302.8V308.4Z" fill="#111"/>
<text class="ts" x="491.0" y="308.6" font-size="9.6" text-anchor="start" fill="#111"><tspan font-size="8.4">42</tspan>kDa</text>
<text class="ts" x="350.0" y="207.7" font-size="10.4" text-anchor="end" fill="#111" transform="rotate(-45 350.0 207.7)">Fresh</text>
<text class="ts" x="373.0" y="211.1" font-size="10.4" text-anchor="end" fill="#111" transform="rotate(-45 373.0 211.1)">BSA</text>
<text class="ts" x="397.2" y="211.1" font-size="10.4" text-anchor="end" fill="#111" transform="rotate(-45 397.2 211.1)">FN</text>
<text class="ts" x="423.4" y="210.1" font-size="10.4" text-anchor="end" fill="#111" transform="rotate(-45 423.4 210.1)">H89</text>
<text class="ts" x="452.4" y="204.9" font-size="10.4" text-anchor="end" fill="#111" transform="rotate(-45 452.4 204.9)">FN80</text>
<text class="ts" x="471.8" y="211.1" font-size="10.4" text-anchor="end" fill="#111" transform="rotate(-45 471.8 211.1)">LPS</text>
<line x1="327.4" y1="325" x2="327.4" y2="397.0" stroke="#555" stroke-width="0.7"/>
<line x1="327.4" y1="397.0" x2="474" y2="397.0" stroke="#555" stroke-width="0.7"/>
<line x1="325.9" y1="397.0" x2="327.4" y2="397.0" stroke="#555" stroke-width="0.6"/>
<text class="ta" x="325" y="398.6" font-size="4.5" text-anchor="end" fill="#333">0</text>
<line x1="325.9" y1="385.0" x2="327.4" y2="385.0" stroke="#555" stroke-width="0.6"/>
<text class="ta" x="325" y="386.6" font-size="4.5" text-anchor="end" fill="#333">5</text>
<line x1="325.9" y1="373.0" x2="327.4" y2="373.0" stroke="#555" stroke-width="0.6"/>
<text class="ta" x="325" y="374.6" font-size="4.5" text-anchor="end" fill="#333">10</text>
<line x1="325.9" y1="361.0" x2="327.4" y2="361.0" stroke="#555" stroke-width="0.6"/>
<text class="ta" x="325" y="362.6" font-size="4.5" text-anchor="end" fill="#333">15</text>
<line x1="325.9" y1="349.0" x2="327.4" y2="349.0" stroke="#555" stroke-width="0.6"/>
<text class="ta" x="325" y="350.6" font-size="4.5" text-anchor="end" fill="#333">20</text>
<line x1="325.9" y1="337.0" x2="327.4" y2="337.0" stroke="#555" stroke-width="0.6"/>
<text class="ta" x="325" y="338.6" font-size="4.5" text-anchor="end" fill="#333">25</text>
<line x1="325.9" y1="325.0" x2="327.4" y2="325.0" stroke="#555" stroke-width="0.6"/>
<text class="ta" x="325" y="326.6" font-size="4.5" text-anchor="end" fill="#333">30</text>
<rect x="335.1" y="394.8" width="10.4" height="2.1999999999999886" fill="#050505"/>
<line x1="340.3" y1="394.2" x2="340.3" y2="394.8" stroke="#444" stroke-width="0.8"/>
<line x1="338.7" y1="394.2" x2="341.90000000000003" y2="394.2" stroke="#444" stroke-width="0.8"/>
<rect x="359.3" y="391.5" width="10.4" height="5.5" fill="#050505"/>
<line x1="364.5" y1="387.0" x2="364.5" y2="391.5" stroke="#444" stroke-width="0.8"/>
<line x1="362.9" y1="387.0" x2="366.1" y2="387.0" stroke="#444" stroke-width="0.8"/>
<rect x="383.5" y="366" width="10.4" height="31.0" fill="#050505"/>
<line x1="388.7" y1="360" x2="388.7" y2="366" stroke="#444" stroke-width="0.8"/>
<line x1="387.09999999999997" y1="360" x2="390.3" y2="360" stroke="#444" stroke-width="0.8"/>
<rect x="407.8" y="363.5" width="10.4" height="33.5" fill="#050505"/>
<line x1="413" y1="358.3" x2="413" y2="363.5" stroke="#444" stroke-width="0.8"/>
<line x1="411.4" y1="358.3" x2="414.6" y2="358.3" stroke="#444" stroke-width="0.8"/>
<rect x="432.1" y="364" width="10.4" height="33.0" fill="#050505"/>
<line x1="437.3" y1="361" x2="437.3" y2="364" stroke="#444" stroke-width="0.8"/>
<line x1="435.7" y1="361" x2="438.90000000000003" y2="361" stroke="#444" stroke-width="0.8"/>
<rect x="456.1" y="350.8" width="10.4" height="46.19999999999999" fill="#050505"/>
<line x1="461.3" y1="337" x2="461.3" y2="350.8" stroke="#444" stroke-width="0.8"/>
<line x1="459.7" y1="337" x2="462.90000000000003" y2="337" stroke="#444" stroke-width="0.8"/>
<line x1="352.40000000000003" y1="397.0" x2="352.40000000000003" y2="398.6" stroke="#555" stroke-width="0.6"/>
<line x1="376.6" y1="397.0" x2="376.6" y2="398.6" stroke="#555" stroke-width="0.6"/>
<line x1="400.8" y1="397.0" x2="400.8" y2="398.6" stroke="#555" stroke-width="0.6"/>
<line x1="425.1" y1="397.0" x2="425.1" y2="398.6" stroke="#555" stroke-width="0.6"/>
<line x1="449.40000000000003" y1="397.0" x2="449.40000000000003" y2="398.6" stroke="#555" stroke-width="0.6"/>
<line x1="473.40000000000003" y1="397.0" x2="473.40000000000003" y2="398.6" stroke="#555" stroke-width="0.6"/>
<text class="ts" x="317.2" y="356.4" font-size="7.5" text-anchor="middle" fill="#222" transform="rotate(-90 317.2 356.4)">Fold Induction</text>
<line x1="386.7" y1="336.0" x2="462.6" y2="336.0" stroke="#111" stroke-width="1.1"/>
<text class="ts" x="425.6" y="334.2" font-size="11" text-anchor="middle" fill="#444" font-weight="bold">***</text>
</svg>
</body></html>
